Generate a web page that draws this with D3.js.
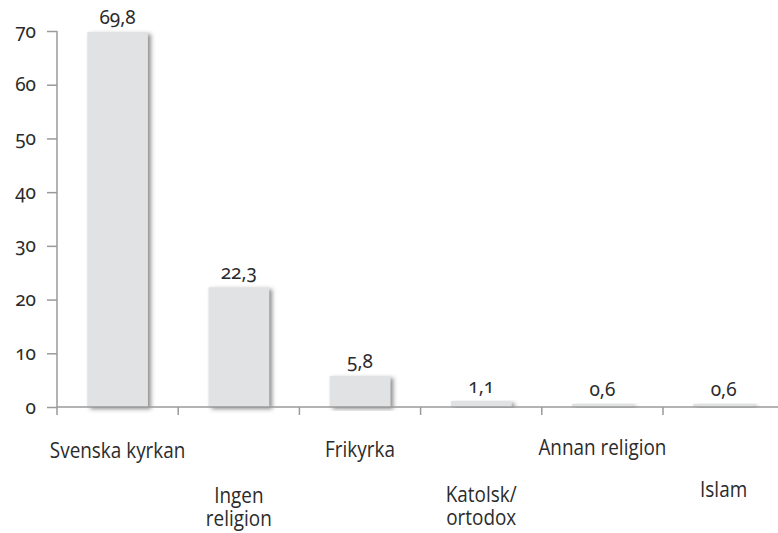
<!DOCTYPE html>
<html>
<head>
<meta charset="utf-8">
<script src="https://cdnjs.cloudflare.com/ajax/libs/d3/7.8.5/d3.min.js"></script>
<style>
  body { margin: 0; background: #fff; }
  svg { display: block; }
  .num { font-family: "Noto Sans", "Open Sans", sans-serif; font-variant-numeric: oldstyle-nums; font-size: 19px; fill: #2b2b2b; }
  .cat { font-family: "Open Sans", "Noto Sans", sans-serif; font-size: 22px; fill: #2b2b2b; }
</style>
</head>
<body>
<div id="chart"></div>
<script>
// data
var categories = ["Svenska kyrkan", "Ingen religion", "Frikyrka", "Katolsk/ortodox", "Annan religion", "Islam"];
var values = [69.8, 22.3, 5.8, 1.1, 0.6, 0.6];
var valueLabels = ["69,8", "22,3", "5,8", "1,1", "0,6", "0,6"];
var yTicks = [0, 10, 20, 30, 40, 50, 60, 70];
// label lines (category names wrapped as in the original)
var labelLines = [["Svenska kyrkan"], ["Ingen", "religion"], ["Frikyrka"], ["Katolsk/", "ortodox"], ["Annan religion"], ["Islam"]];

var width = 778,
    height = 533;

// layout: baseline of first line for each staggered label
var labelBaseline = [458, 503, 457, 502, 455, 497],
    lineGap = 23;

var svg = d3.select("#chart")
    .append("svg")
    .attr("width", width)
    .attr("height", height);

var defs = svg.append("defs");
var shadow = defs.append("filter")
    .attr("id", "shadow")
    .attr("x", "-20%").attr("y", "-5%")
    .attr("width", "140%").attr("height", "115%");
shadow.append("feDropShadow")
    .attr("dx", 3).attr("dy", 2)
    .attr("stdDeviation", 2)
    .attr("flood-color", "#444")
    .attr("flood-opacity", 0.6);

var x = d3.scaleBand()
    .domain(categories)
    .range([57, 57 + 6 * 121.2])
    .paddingInner(0.5)
    .paddingOuter(0.25);

var y = d3.scaleLinear()
    .domain([0, 70])
    .range([407, 31]);

// bars
svg.append("g")
    .selectAll("rect")
    .data(values)
    .enter().append("rect")
    .attr("x", function (d, i) { return x(categories[i]); })
    .attr("y", function (d) { return y(d); })
    .attr("width", x.bandwidth())
    .attr("height", function (d) { return y(0) - y(d); })
    .attr("fill", "#e1e2e4")
    .attr("filter", "url(#shadow)");

// value labels
svg.append("g")
    .selectAll("text")
    .data(values)
    .enter().append("text")
    .attr("class", "num")
    .attr("text-anchor", "middle")
    .attr("x", function (d, i) { return x(categories[i]) + x.bandwidth() / 2; })
    .attr("y", function (d) { return y(d) - 8; })
    .text(function (d, i) { return valueLabels[i]; });

// y axis
var yAxis = svg.append("g")
    .attr("transform", "translate(57,0)")
    .call(d3.axisLeft(y).tickValues(yTicks).tickSize(10).tickPadding(11).tickFormat(d3.format("d")));
yAxis.selectAll("path, line").attr("stroke", "#9a9a9a").attr("stroke-width", 1.5);
yAxis.select(".domain").attr("d", "M0," + y(70) + "V" + y(0));
yAxis.selectAll("text").attr("class", "num").attr("font-size", null).attr("font-family", null);

// x axis: line plus ticks at band boundaries
var step = x.step(),
    x0 = x.range()[0];
var xAxis = svg.append("g").attr("transform", "translate(0," + y(0) + ")");
xAxis.append("line")
    .attr("x1", x0).attr("x2", x.range()[1])
    .attr("stroke", "#9a9a9a").attr("stroke-width", 1.5);
xAxis.selectAll(".tick")
    .data(d3.range(categories.length + 1))
    .enter().append("line")
    .attr("class", "tick")
    .attr("x1", function (i) { return x0 + i * step; })
    .attr("x2", function (i) { return x0 + i * step; })
    .attr("y1", 0).attr("y2", 8)
    .attr("stroke", "#9a9a9a").attr("stroke-width", 1.5);

// category labels (condensed look), one text element per label
var labels = svg.append("g")
    .selectAll("text")
    .data(categories)
    .enter().append("text")
    .attr("class", "cat")
    .attr("text-anchor", "middle")
    .attr("transform", function (d, i) {
        return "translate(" + (x(d) + x.bandwidth() / 2) + "," + labelBaseline[i] + ") scale(0.86,1)";
    });
labels.each(function (d, i) {
    var t = d3.select(this);
    labelLines[i].forEach(function (line, j) {
        t.append("tspan")
            .attr("x", 0)
            .attr("dy", j === 0 ? 0 : lineGap)
            .text(line);
    });
});
</script>
</body>
</html>
